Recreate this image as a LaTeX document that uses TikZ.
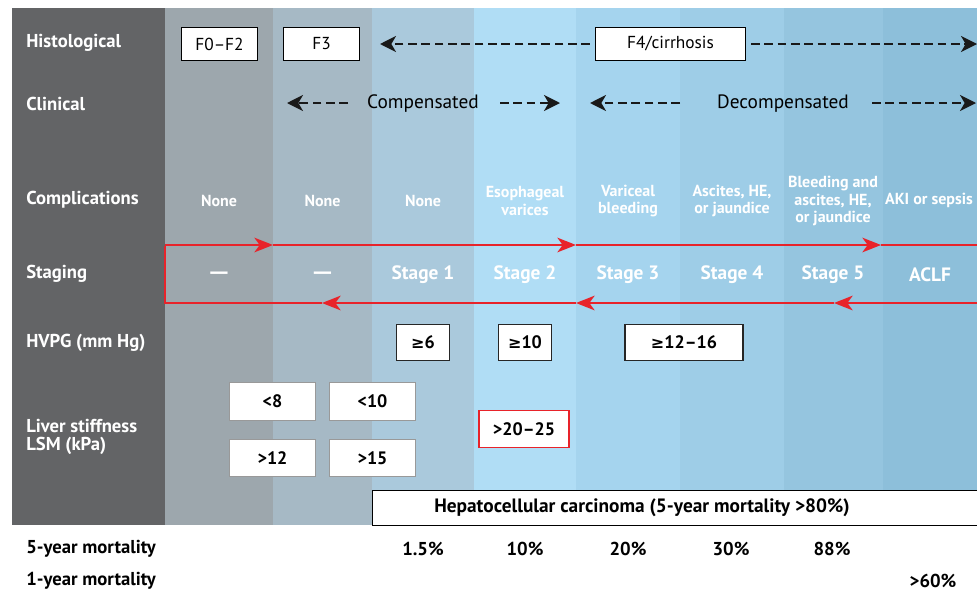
\documentclass[tikz,border=0pt]{standalone}
\usepackage{fontspec}
\setmainfont{PT Sans}
\newfontfamily\symfont{DejaVu Sans}
\usetikzlibrary{arrows.meta, positioning, calc}

\definecolor{panelDark}{HTML}{636466}
\definecolor{colA}{HTML}{9DA7AD}
\definecolor{colB}{HTML}{A6B9C5}
\definecolor{colC}{HTML}{AAC9DC}
\definecolor{colD}{HTML}{B0DDF5}
\definecolor{colE}{HTML}{A5D4EE}
\definecolor{colF}{HTML}{9ECDE7}
\definecolor{colG}{HTML}{95C5DF}
\definecolor{colH}{HTML}{8DBFDA}
\definecolor{loopRed}{HTML}{E8232A}

\begin{document}
\begin{tikzpicture}[
    x=0.75pt, y=-0.75pt,
    rowlabel/.style={anchor=west, inner sep=0pt, text=white, font=\bfseries\fontsize{14}{13}\selectfont, align=left},
    histbox/.style={rectangle, draw=black, fill=white, line width=0.8pt, minimum width=57pt, minimum height=25pt, inner sep=0pt, font=\fontsize{13}{14}\selectfont},
    phase/.style={font=\fontsize{14.5}{16}\selectfont},
    compl/.style={text=white, align=center, font=\bfseries\fontsize{12}{12.8}\selectfont},
    stagetxt/.style={text=white, font=\bfseries\fontsize{14.5}{16}\selectfont},
    hvpgbox/.style={rectangle, draw=black!85, fill=white, line width=0.9pt, minimum width=40pt, minimum height=27.5pt, inner sep=0pt, font=\bfseries\fontsize{13.5}{15}\selectfont},
    lsmbox/.style={rectangle, draw=black!40, fill=white, line width=0.9pt, minimum width=65pt, minimum height=28pt, inner sep=0pt, font=\bfseries\fontsize{13.5}{15}\selectfont},
    mort/.style={font=\bfseries\fontsize{14}{16}\selectfont},
    dasharrow/.style={-{Stealth[length=12pt, width=12pt, inset=3.5pt]}, line width=1.6pt, dash pattern=on 6.5pt off 3.5pt, black!90},
    redarrow/.style={-{Stealth[length=14pt, width=11pt, inset=4pt]}, line width=1.4pt, loopRed},
    redline/.style={line width=1.4pt, loopRed}
]
\useasboundingbox (0,0) rectangle (977,593);
\fill[white] (0,0) rectangle (977,593);

% Background columns
\fill[panelDark] (12,8) rectangle (165,525);
\foreach \xa/\xb/\col in {165/273/colA, 273/372/colB, 372/474/colC, 474/576/colD, 576/680/colE, 680/784/colF, 784/883/colG, 883/980/colH}
    \fill[\col] (\xa,8) rectangle (\xb,525);

% Row labels
\node[rowlabel] (lHist) at (26,43) {Histological};
\node[rowlabel] (lClin) at (26,104) {Clinical};
\node[rowlabel] (lComp) at (26,200) {Complications};
\node[rowlabel] (lStag) at (26,274) {Staging};
\node[rowlabel] (lHvpg) at (26,343) {HVPG (mm Hg)};
\node[rowlabel] (lLsm) at (26,437) {Liver stiffness\\LSM (kPa)};

% Histological
\node[histbox] (f02) at (219.5,44) {F0--F2};
\node[histbox] (f3) at (321.5,44) {F3};
\node[histbox, minimum width=112pt] (f4) at (670.5,44) {F4/cirrhosis};
\coordinate (histL) at (380,44);
\coordinate (histR) at (977,44);
\draw[dasharrow, shorten <=4pt] (f4.west) -- (histL);
\draw[dasharrow, shorten <=4pt] (f4.east) -- (histR);

% Clinical
\node[phase] (comp) at (423,104) {Compensated};
\node[phase] (decomp) at (783,104) {Decompensated};
\coordinate (cLs) at (348,103); \coordinate (cLe) at (287,103);
\coordinate (cRs) at (500,103); \coordinate (cRe) at (560,103);
\coordinate (dLs) at (680,103); \coordinate (dLe) at (590,103);
\coordinate (dRs) at (872,103); \coordinate (dRe) at (976,103);
\draw[dasharrow] (cLs) -- (cLe);
\draw[dasharrow] (cRs) -- (cRe);
\draw[dasharrow] (dLs) -- (dLe);
\draw[dasharrow] (dRs) -- (dRe);

% Complications
\node[compl] (c1) at (219,201) {None};
\node[compl] (c2) at (322.5,201) {None};
\node[compl] (c3) at (423,201) {None};
\node[compl] (c4) at (525,201) {Esophageal\\varices};
\node[compl] (c5) at (628,201) {Variceal\\bleeding};
\node[compl] (c6) at (732,201) {Ascites, HE,\\or jaundice};
\node[compl] (c7) at (833,201) {Bleeding and\\ascites, HE,\\or jaundice};
\node[compl] (c8) at (929,200) {AKI or sepsis};

% Staging loop
\coordinate (sTL) at (165,245); \coordinate (sBL) at (165,303);
\coordinate (sTR) at (990,245); \coordinate (sBR) at (990,303);
\coordinate (t1) at (273,245); \coordinate (t2) at (576,245); \coordinate (t3) at (881,245);
\coordinate (b1) at (834,303); \coordinate (b2) at (576,303); \coordinate (b3) at (322,303);
\draw[redarrow] (sTL) -- (t1);
\draw[redarrow] (t1) -- (t2);
\draw[redarrow] (t2) -- (t3);
\draw[redline] (t3) -- (sTR);
\draw[redarrow] (sBR) -- (b1);
\draw[redarrow] (b1) -- (b2);
\draw[redarrow] (b2) -- (b3);
\draw[redline, line join=miter] (b3) -- (sBL) -- ([yshift=-0.5pt]sTL);

\node[stagetxt] (s0) at (219,275) {\symfont —};
\node[stagetxt] (s00) at (322.5,275) {\symfont —};
\foreach \x/\n in {423/1, 525/2, 628/3, 732/4, 833/5}
    \node[stagetxt] (st\n) at (\x,275) {Stage \n};
\node[stagetxt] (aclf) at (930,275) {ACLF};

% HVPG
\node[hvpgbox] (h6) at (423,342.5) {{\symfont\fontsize{12}{13}\selectfont ≥}6};
\node[hvpgbox] (h10) at (525,342.5) {{\symfont\fontsize{12}{13}\selectfont ≥}10};
\node[hvpgbox, minimum width=88.5pt] (h12) at (684,342.5) {{\symfont\fontsize{12}{13}\selectfont ≥}12--16};

% Liver stiffness
\node[lsmbox] (l8) at (272.5,401.5) {<8};
\node[lsmbox] (l10) at (372.5,401.5) {<10};
\node[lsmbox] (l12) at (272.5,458) {>12};
\node[lsmbox] (l15) at (372.5,458) {>15};
\node[lsmbox, draw=loopRed, minimum width=67.5pt] (l20) at (524,429) {>20--25};

% HCC bar
\node[rectangle, draw=black, fill=white, line width=0.8pt, anchor=north west, minimum width=460pt, minimum height=26pt, inner sep=0pt] (hcc) at (372,490) {};
\node[mort, font=\bfseries\fontsize{14.5}{16}\selectfont] (hccTxt) at (642,508) {Hepatocellular carcinoma (5-year mortality >80\%)};

% Mortality rows
\node[mort, anchor=west, inner sep=0pt] (m5) at (26,549) {5-year mortality};
\node[mort, anchor=west, inner sep=0pt] (m1) at (26,581) {1-year mortality};
\foreach \x/\v in {423/1.5, 525/10, 628/20, 731/30, 832/88}
    \node[mort] at (\x,549) {\v\%};
\node[mort] (m60) at (933,581) {>60\%};
\end{tikzpicture}
\end{document}
